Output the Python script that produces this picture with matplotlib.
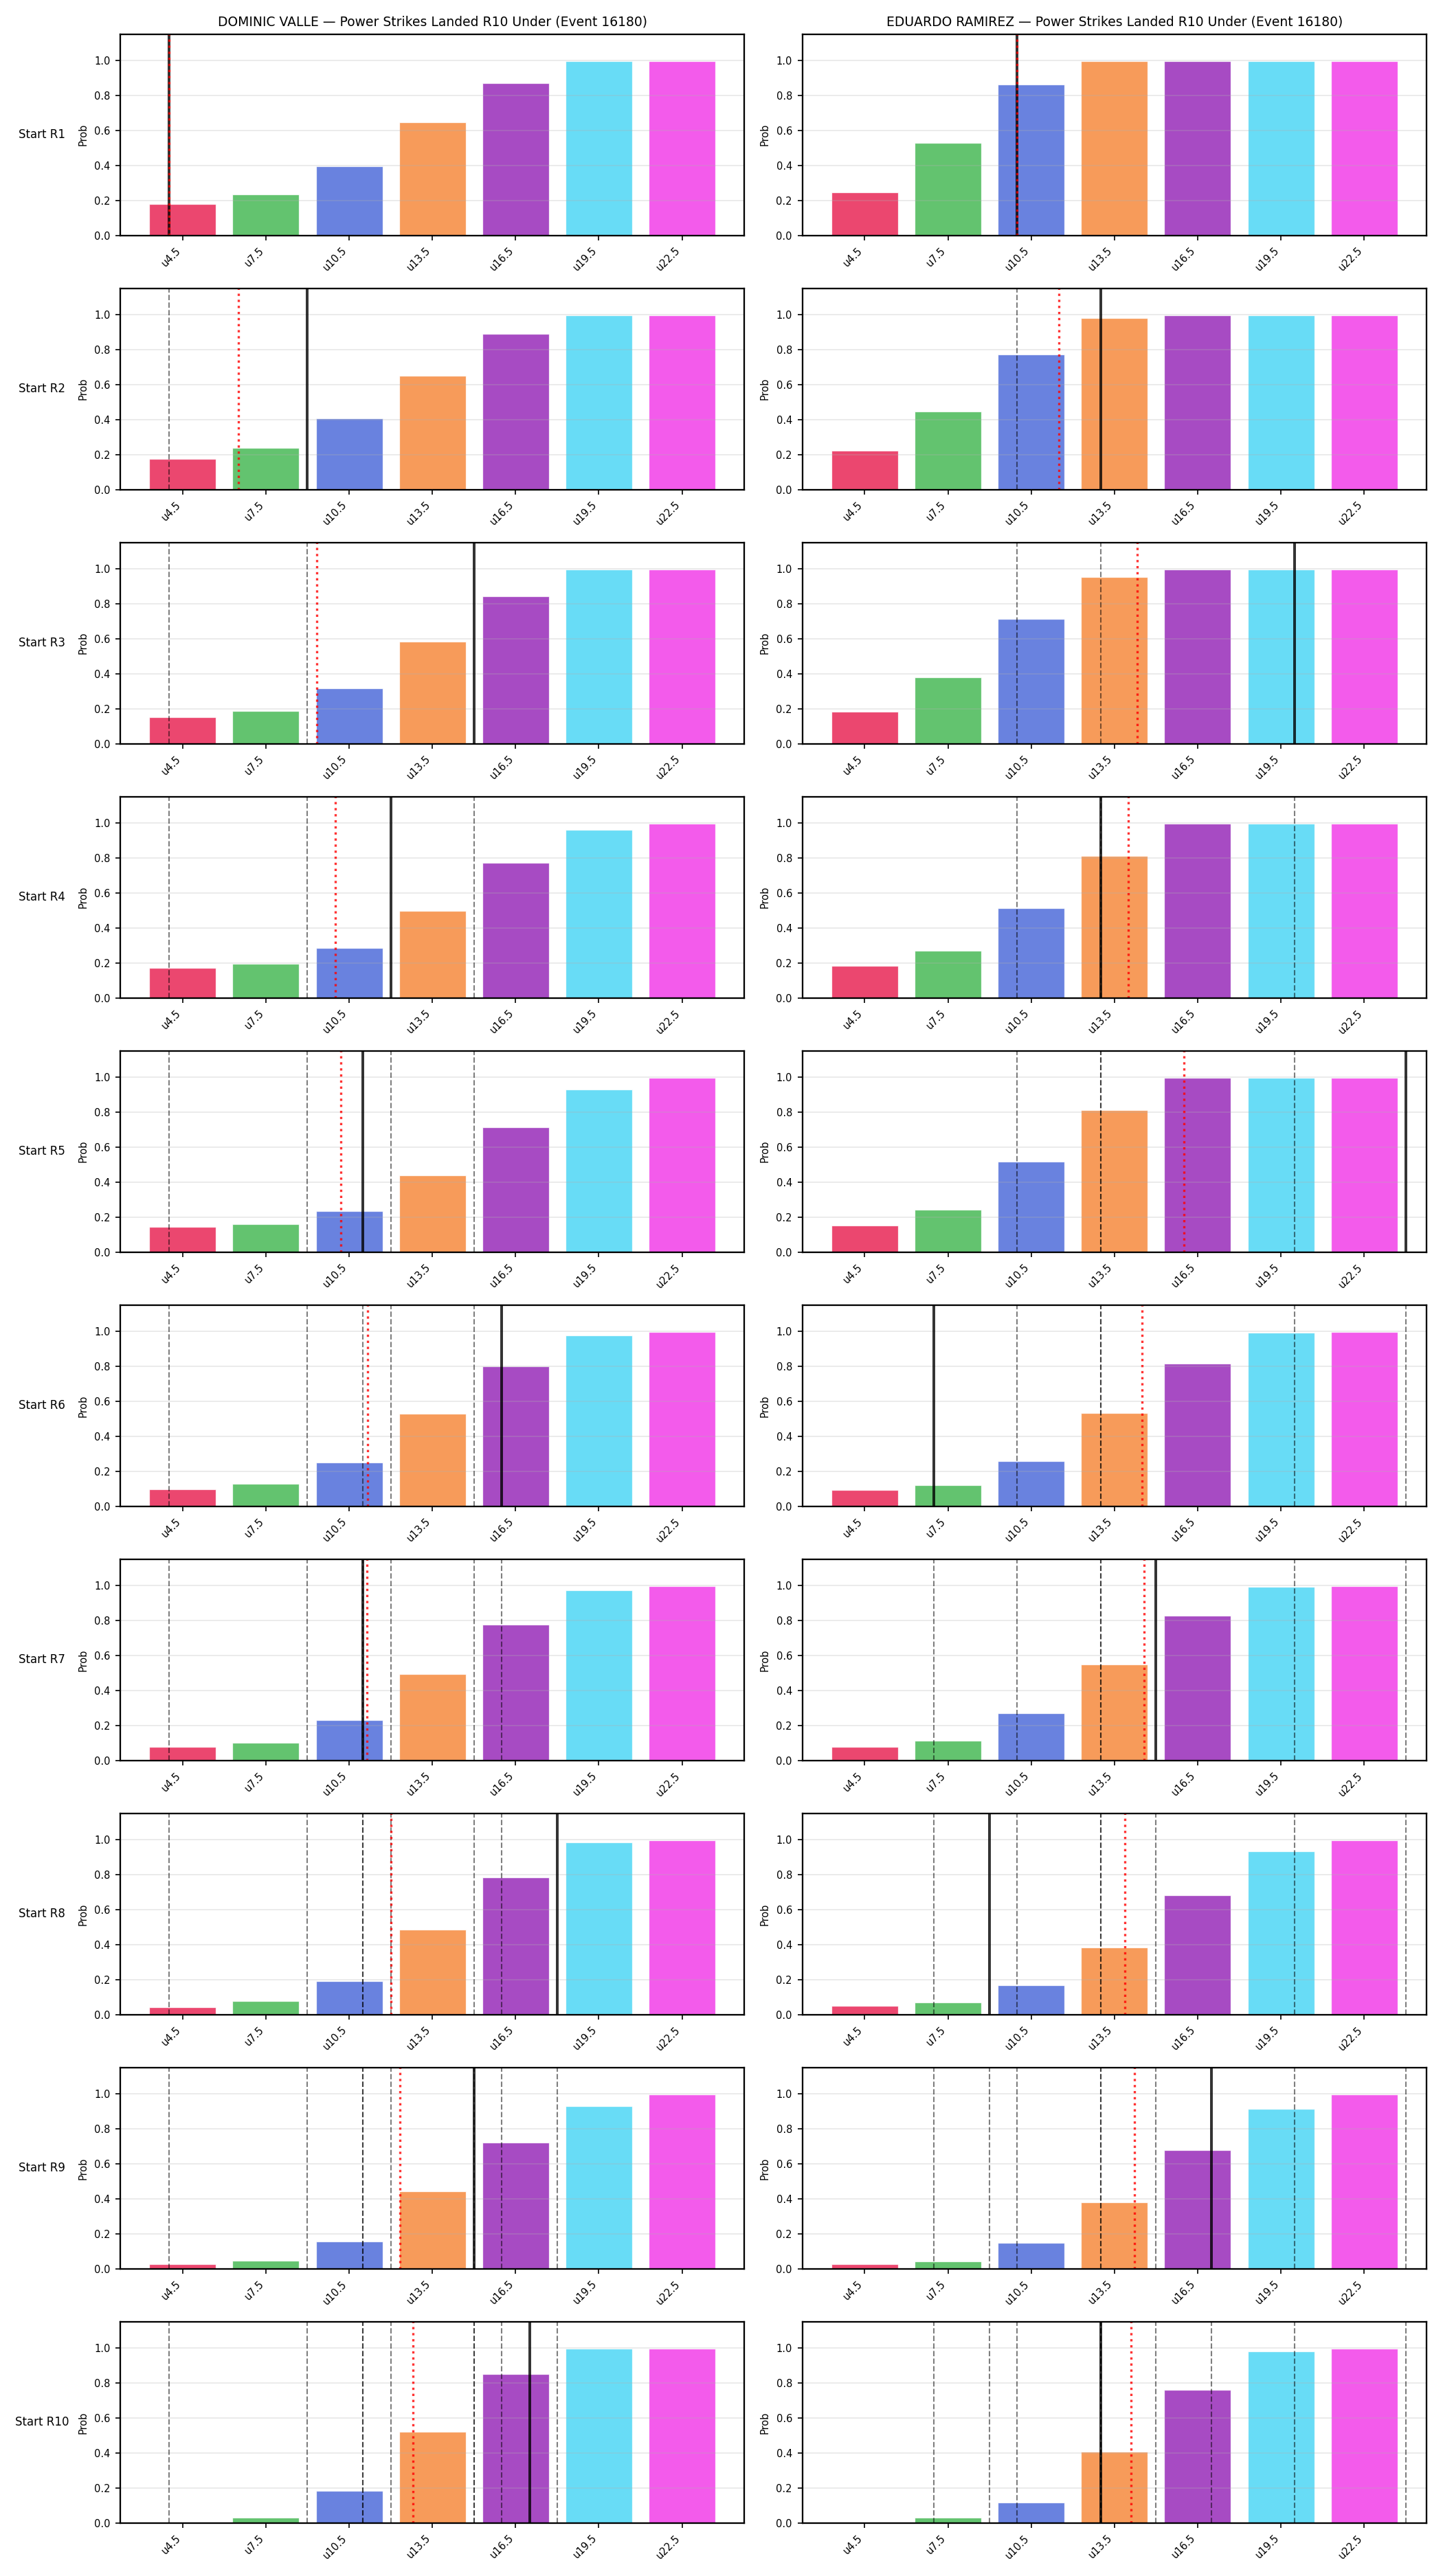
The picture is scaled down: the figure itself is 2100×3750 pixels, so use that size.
"""Power Strikes Landed R10 Under — per-round starting-point probabilities (Event 16180)."""
import matplotlib
matplotlib.use('Agg')
import matplotlib.pyplot as plt
import numpy as np

FIGHTERS = ['DOMINIC VALLE', 'EDUARDO RAMIREZ']
EVENT_ID = 16180
LINES = [4.5, 7.5, 10.5, 13.5, 16.5, 19.5, 22.5]
LINE_LABELS = ['u4.5', 'u7.5', 'u10.5', 'u13.5', 'u16.5', 'u19.5', 'u22.5']
ROUNDS = [f'Start R{i}' for i in range(1, 11)]

# P(under) per line, one list per starting round
valle_probs = [
    [0.181, 0.236, 0.397, 0.647, 0.871, 0.998, 0.998],
    [0.174, 0.240, 0.406, 0.652, 0.892, 0.998, 0.998],
    [0.152, 0.188, 0.315, 0.583, 0.843, 0.998, 0.998],
    [0.171, 0.196, 0.287, 0.497, 0.771, 0.961, 0.997],
    [0.144, 0.160, 0.235, 0.439, 0.714, 0.931, 0.997],
    [0.097, 0.127, 0.251, 0.528, 0.801, 0.978, 0.997],
    [0.078, 0.102, 0.230, 0.493, 0.776, 0.975, 0.997],
    [0.044, 0.077, 0.191, 0.486, 0.785, 0.986, 0.997],
    [0.028, 0.046, 0.157, 0.443, 0.720, 0.931, 0.997],
    [0.004, 0.030, 0.183, 0.522, 0.852, 0.998, 0.998],
]
ramirez_probs = [
    [0.246, 0.529, 0.864, 0.998, 0.998, 0.998, 0.998],
    [0.221, 0.445, 0.773, 0.981, 0.998, 0.998, 0.998],
    [0.185, 0.381, 0.715, 0.953, 0.998, 0.998, 0.998],
    [0.182, 0.268, 0.514, 0.812, 0.998, 0.998, 0.998],
    [0.153, 0.244, 0.519, 0.812, 0.998, 0.998, 0.998],
    [0.094, 0.119, 0.257, 0.533, 0.815, 0.992, 0.997],
    [0.078, 0.114, 0.269, 0.548, 0.828, 0.992, 0.997],
    [0.050, 0.069, 0.166, 0.384, 0.682, 0.934, 0.997],
    [0.028, 0.042, 0.148, 0.380, 0.679, 0.915, 0.997],
    [0.000, 0.030, 0.117, 0.408, 0.763, 0.982, 0.997],
]

# observed strikes at each start (solid) and running projection (red dotted)
valle_actual = [4, 9, 15, 12, 11, 16, 11, 18, 15, 17]
valle_proj = [4.0, 6.5, 9.33, 10.0, 10.2, 11.17, 11.14, 12.0, 12.33, 12.8]
ramirez_actual = [10, 13, 20, 13, 24, 7, 15, 9, 17, 13]
ramirez_proj = [10.0, 11.5, 14.33, 14.0, 16.0, 14.5, 14.57, 13.88, 14.22, 14.1]

COLORS = ['#e6194b', '#3cb44b', '#4363d8', '#f58231', '#911eb4', '#42d4f4', '#f032e6']


def _to_x(v):
    # strike value -> bar index position (lines are evenly spaced)
    step = LINES[1] - LINES[0]
    return (v - LINES[0]) / step


def _panel(ax, probs, actual, proj, r):
    x = np.arange(len(LINES))
    ax.bar(x, probs, color=COLORS, alpha=0.8, width=0.8,
           edgecolor='white', linewidth=0.6)
    for prev in actual[:r]:
        ax.axvline(_to_x(prev), color='black', linestyle='--', linewidth=1.0, alpha=0.5)
    ax.axvline(_to_x(actual[r]), color='black', linewidth=1.9, alpha=0.8)
    ax.axvline(_to_x(proj[r]), color='red', linestyle=':', linewidth=1.6, alpha=0.8)

    ax.set_xticks(x)
    ax.set_xticklabels(LINE_LABELS, rotation=45, ha='right', fontsize=7)
    ax.tick_params(axis='y', labelsize=7)
    ax.set_xlim(-0.75, 6.75)
    ax.set_ylim(0, 1.15)
    ax.set_ylabel('Prob', fontsize=7)
    ax.grid(axis='y', alpha=0.3)
    for s in ax.spines.values():
        s.set_linewidth(1.1)


fig, axes = plt.subplots(10, 2, figsize=(14, 25))
fig.subplots_adjust(left=0.0833, right=0.9886, top=0.9867, bottom=0.0206,
                    wspace=0.0925, hspace=0.264)

data = [
    (valle_probs, valle_actual, valle_proj),
    (ramirez_probs, ramirez_actual, ramirez_proj),
]

for c, (probs, actual, proj) in enumerate(data):
    for r in range(len(ROUNDS)):
        ax = axes[r, c]
        _panel(ax, probs[r], actual, proj, r)
        if r == 0:
            ax.set_title(f'{FIGHTERS[c]} — Power Strikes Landed R10 Under (Event {EVENT_ID})',
                         fontsize=9)
        if c == 0:
            ax.text(-0.125, 0.5, ROUNDS[r], transform=ax.transAxes,
                    ha='center', va='center', fontsize=8)

plt.savefig('out.png', dpi=150)
plt.close()
